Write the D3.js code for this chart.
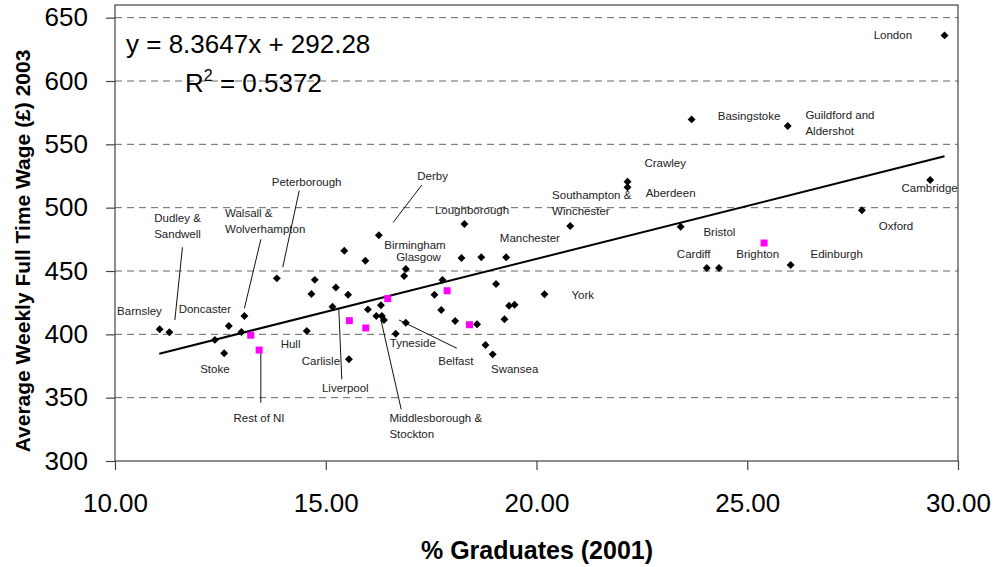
<!DOCTYPE html>
<html>
<head>
<meta charset="utf-8">
<script src="https://cdn.jsdelivr.net/npm/d3@7"></script>
<style>
	body { margin: 0; background: #fff; }
	svg { display: block; font-family: "Liberation Sans", Arial, sans-serif; }
</style>
</head>
<body>
<div id="chart"></div>
<script>
// % graduates (2001) against average weekly full time wage (2003)
var areaGrad = [11.06, 11.29, 12.37, 12.59, 12.70, 13.00, 13.07, 13.84, 14.55, 14.66, 14.74, 15.16, 15.24, 15.44,
	15.53, 15.55, 15.94, 16.00, 16.20, 16.26, 16.31, 16.33, 16.38, 16.66, 16.86, 16.90, 16.90, 17.58, 17.74,
	17.77, 18.07, 18.22, 18.29, 18.59, 18.69, 18.79, 18.96, 19.04, 19.24, 19.28, 19.35, 19.48, 20.19, 20.80,
	22.16, 22.16, 23.42, 23.68, 24.04, 24.33, 25.96, 26.03, 27.72, 29.34, 29.68];
var areaWage = [404, 401.6, 395.6, 385, 406.6, 401.8, 414.5, 444.2, 402.6, 431.8, 443, 421.8, 437, 466,
	431.3, 380.3, 458.1, 419.7, 414.5, 478.2, 422.9, 414.5, 411.3, 400.5, 446, 451.6, 409.2, 431.3, 419.2,
	442.9, 410.5, 460.3, 487.1, 407.9, 460.8, 391.6, 384.2, 439.7, 411.9, 460.8, 422.6, 423.4, 431.6, 485.5,
	520.5, 516.1, 485, 569.7, 452.4, 452.4, 564.5, 454.7, 497.9, 521.8, 636];

// highlighted areas (pink squares)
var pinkGrad = [13.22, 13.42, 15.56, 15.95, 16.47, 17.88, 18.41, 25.40];
var pinkWage = [399.3, 387.6, 410.8, 405, 428.2, 434.4, 407.6, 472.1];

var xTicks = [10, 15, 20, 25, 30];
var yTicks = [300, 350, 400, 450, 500, 550, 600, 650];

var trendSlope = 8.3647;
var trendIntercept = 292.28;
var trendRange = [11.05, 29.68];

// area names, anchored in data units (left edge of text, baseline)
var labelText = ["London", "Basingstoke", "Guildford and\nAldershot", "Crawley", "Aberdeen", "Southampton &\nWinchester",
	"Cambridge", "Oxford", "Bristol", "Cardiff", "Brighton", "Edinburgh", "Manchester", "York", "Loughborough",
	"Derby", "Birmingham", "Glasgow", "Peterborough", "Walsall &\nWolverhampton", "Dudley &\nSandwell", "Barnsley",
	"Doncaster", "Hull", "Stoke", "Rest of NI", "Carlisle", "Liverpool", "Tyneside", "Belfast", "Swansea",
	"Middlesborough &\nStockton"];
var labelGrad = [28.0, 24.30, 26.38, 22.56, 22.59, 20.37,
	28.66, 28.12, 23.96, 23.33, 24.74, 26.50, 19.13, 20.83, 17.59,
	17.17, 16.39, 16.67, 13.72, 12.61, 10.93, 10.05,
	11.51, 13.93, 12.02, 12.81, 14.43, 14.91, 16.52, 17.67, 18.92,
	16.51];
var labelWage = [633, 569.2, 569.8, 531.9, 508.7, 506.8,
	512.1, 482.4, 477.9, 460, 460, 460, 473.1, 427.7, 495,
	521.8, 467.1, 457.9, 517.3, 492.4, 488.9, 415.3,
	416.6, 389, 369.7, 331, 375.8, 354.7, 390.2, 375.8, 369.2,
	331];

// leader lines [grad1, wage1, grad2, wage2]
var leaders = [
	[14.37, 513.4, 13.98, 453],
	[11.60, 468.7, 11.42, 411.3],
	[13.46, 475, 13.07, 420.5],
	[13.46, 386.3, 13.46, 346],
	[15.31, 419.8, 15.38, 364.5],
	[16.74, 411.3, 18.11, 389],
	[16.31, 411.3, 16.79, 340.8],
	[17.28, 517.9, 16.60, 488.4]
];

var width = 994, height = 567;

var svg = d3.select("#chart")
	.append("svg")
	.attr("width", width)
	.attr("height", height);

var x = d3.scaleLinear().domain([10, 30]).range([115, 958]);
var y = d3.scaleLinear().domain([300, 660]).range([461, 5]);

// gridlines
svg.append("g")
	.selectAll("line")
	.data(yTicks.slice(1))
	.join("line")
	.attr("x1", x(10))
	.attr("x2", x(30))
	.attr("y1", d => y(d))
	.attr("y2", d => y(d))
	.attr("stroke", "#666")
	.attr("stroke-width", 1)
	.attr("stroke-dasharray", "7,5");

// frame
svg.append("rect")
	.attr("x", x(10))
	.attr("y", y(660))
	.attr("width", x(30) - x(10))
	.attr("height", y(300) - y(660))
	.attr("fill", "none")
	.attr("stroke", "#444")
	.attr("stroke-width", 1.2);

// axes
var xAxis = svg.append("g")
	.attr("transform", "translate(0," + y(300) + ")")
	.call(d3.axisBottom(x).tickValues(xTicks).tickSize(9).tickPadding(24).tickFormat(d3.format(".2f")));
var yAxis = svg.append("g")
	.attr("transform", "translate(" + x(10) + ",0)")
	.call(d3.axisLeft(y).tickValues(yTicks).tickSize(9).tickPadding(18).tickFormat(d3.format("d")));

[xAxis, yAxis].forEach(a => {
	a.select(".domain").remove();
	a.selectAll("line").attr("stroke", "#444").attr("stroke-width", 1.2);
	a.selectAll("text")
		.attr("fill", "#000")
		.style("font-family", "'Liberation Sans', Arial, sans-serif")
		.style("font-size", "26px");
});

// trendline
svg.append("line")
	.attr("x1", x(trendRange[0]))
	.attr("y1", y(trendSlope * trendRange[0] + trendIntercept))
	.attr("x2", x(trendRange[1]))
	.attr("y2", y(trendSlope * trendRange[1] + trendIntercept))
	.attr("stroke", "#000")
	.attr("stroke-width", 2);

// leader lines
svg.append("g")
	.selectAll("line")
	.data(leaders)
	.join("line")
	.attr("x1", d => x(d[0]))
	.attr("y1", d => y(d[1]))
	.attr("x2", d => x(d[2]))
	.attr("y2", d => y(d[3]))
	.attr("stroke", "#111")
	.attr("stroke-width", 1);

// black diamonds
svg.append("g")
	.selectAll("path")
	.data(areaGrad)
	.join("path")
	.attr("d", d3.symbol(d3.symbolDiamond2, 40))
	.attr("transform", (d, i) => "translate(" + x(d) + "," + y(areaWage[i]) + ")")
	.attr("fill", "#000");

// pink squares
svg.append("g")
	.selectAll("rect")
	.data(pinkGrad)
	.join("rect")
	.attr("x", d => x(d) - 3.5)
	.attr("y", (d, i) => y(pinkWage[i]) - 3.5)
	.attr("width", 7)
	.attr("height", 7)
	.attr("fill", "#ff00ff");

// area labels
var labels = svg.append("g")
	.selectAll("text")
	.data(labelText)
	.join("text")
	.attr("x", (d, i) => x(labelGrad[i]))
	.attr("y", (d, i) => y(labelWage[i]))
	.attr("font-size", "11.5px")
	.attr("fill", "#222");

labels.each(function (d, i) {
	var t = d3.select(this);
	d.split("\n").forEach((line, j) => {
		t.append("tspan")
			.attr("x", x(labelGrad[i]))
			.attr("dy", j == 0 ? 0 : 16)
			.text(line);
	});
});

// regression equation
svg.append("text")
	.attr("x", 126)
	.attr("y", 53)
	.attr("font-size", "26px")
	.text("y = " + trendSlope + "x + " + trendIntercept);

var r2 = svg.append("text")
	.attr("x", 185)
	.attr("y", 92)
	.attr("font-size", "26px");
r2.append("tspan").text("R");
r2.append("tspan").attr("font-size", "16px").attr("dy", -11).text("2");
r2.append("tspan").attr("dy", 11).text(" = 0.5372");

// axis titles
svg.append("text")
	.attr("x", 537)
	.attr("y", 559)
	.attr("text-anchor", "middle")
	.attr("font-weight", "bold")
	.attr("font-size", "25px")
	.text("% Graduates (2001)");

svg.append("text")
	.attr("transform", "translate(30,251) rotate(-90)")
	.attr("text-anchor", "middle")
	.attr("font-weight", "bold")
	.attr("font-size", "21px")
	.text("Average Weekly Full Time Wage (£) 2003");
</script>
</body>
</html>
